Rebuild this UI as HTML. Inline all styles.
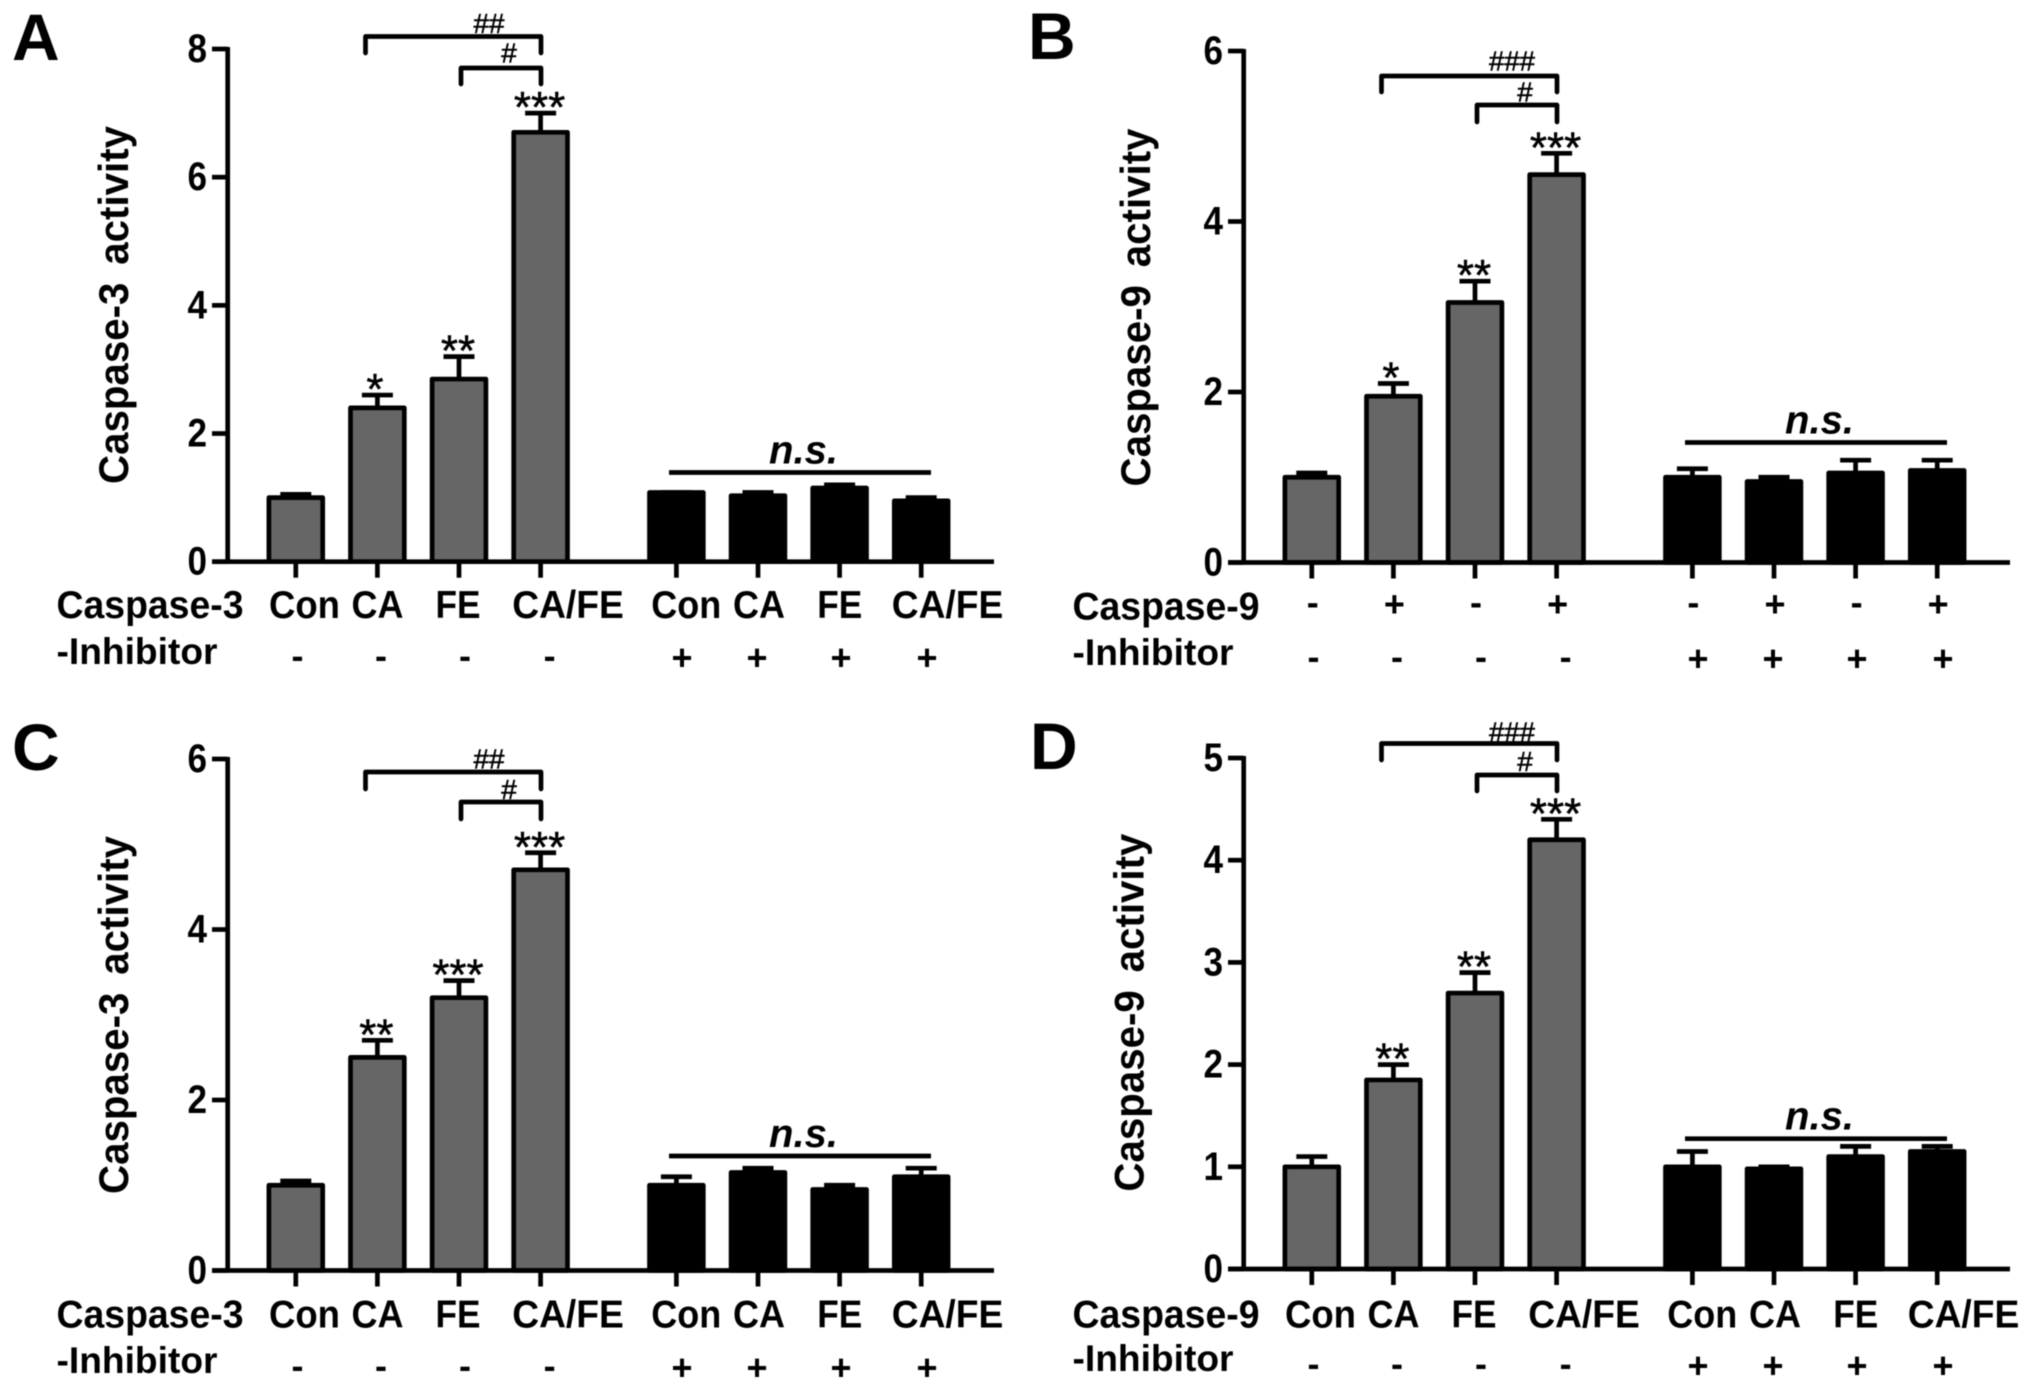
<!DOCTYPE html>
<html lang="en">
<head>
<meta charset="utf-8">
<title>Caspase-3 and Caspase-9 activity</title>
<style>
html,body{margin:0;padding:0;background:#fff;}
svg{display:block;font-family:"Liberation Sans",Arial,sans-serif;filter:blur(0.6px);}
</style>
</head>
<body>
<svg id="figure" xmlns="http://www.w3.org/2000/svg" width="2031" height="1388" viewBox="0 0 2031 1388">
<rect x="0" y="0" width="2031" height="1388" fill="#ffffff"/>
</svg>
<script>
// ---- Data ----
const categories = ['Con', 'CA', 'FE', 'CA/FE', 'Con', 'CA', 'FE', 'CA/FE'];
const inhibitorSigns = ['-', '-', '-', '-', '+', '+', '+', '+'];
const agentSigns = ['-', '+', '-', '+', '-', '+', '-', '+'];

const panelAValues = [1.0, 2.4, 2.85, 6.7, 1.08, 1.03, 1.15, 0.95];
const panelAErrorTops = [1.05, 2.6, 3.2, 7.0, 1.08, 1.08, 1.2, 1.0];
const panelATicks = [0, 2, 4, 6, 8];
const panelAStars = ['', '*', '**', '***', '', '', '', ''];

const panelBValues = [1.0, 1.95, 3.05, 4.55, 1.0, 0.95, 1.05, 1.08];
const panelBErrorTops = [1.05, 2.1, 3.3, 4.8, 1.1, 1.0, 1.2, 1.2];
const panelBTicks = [0, 2, 4, 6];
const panelBStars = ['', '*', '**', '***', '', '', '', ''];

const panelCValues = [1.0, 2.5, 3.2, 4.7, 1.0, 1.15, 0.95, 1.1];
const panelCErrorTops = [1.05, 2.7, 3.4, 4.9, 1.1, 1.2, 1.0, 1.2];
const panelCTicks = [0, 2, 4, 6];
const panelCStars = ['', '**', '***', '***', '', '', '', ''];

const panelDValues = [1.0, 1.85, 2.7, 4.2, 1.0, 0.98, 1.1, 1.15];
const panelDErrorTops = [1.1, 2.0, 2.9, 4.4, 1.15, 1.0, 1.2, 1.2];
const panelDTicks = [0, 1, 2, 3, 4, 5];
const panelDStars = ['', '**', '**', '***', '', '', '', ''];

// ---- Layout ----
const panels = [
  {id:'a', letter:'A', ox:0, letterX:12, letterY:60, base:561.7, top:49, yTitle:'Caspase-3 activity', yTitleX:128, yTitleY:305,
   rowLabel:'Caspase-3', row1Y:618, row2Y:664, signY:668, plusY:670, bracket1:[36.5,53], bracket2:[68,84], hash:'##',
   hash1Y:23, hash2Y:52.5, nsY:472.5, values:panelAValues, errs:panelAErrorTops, ticks:panelATicks, stars:panelAStars, named:true},
  {id:'b', letter:'B', ox:1016, letterX:1028, letterY:59, base:562.5, top:51, yTitle:'Caspase-9 activity', yTitleX:1150, yTitleY:307.5,
   rowLabel:'Caspase-9', row1Y:619.5, row2Y:665, signY:669, plusY:671, bracket1:[76,92], bracket2:[105,122], hash:'###',
   hash1Y:60.5, hash2Y:91.5, nsY:442.5, values:panelBValues, errs:panelBErrorTops, ticks:panelBTicks, stars:panelBStars, named:false},
  {id:'c', letter:'C', ox:0, letterX:12, letterY:770, base:1270.5, top:759, yTitle:'Caspase-3 activity', yTitleX:128, yTitleY:1015,
   rowLabel:'Caspase-3', row1Y:1327.6, row2Y:1373, signY:1378, plusY:1380, bracket1:[772,789], bracket2:[802,819], hash:'##',
   hash1Y:758.5, hash2Y:789, nsY:1156, values:panelCValues, errs:panelCErrorTops, ticks:panelCTicks, stars:panelCStars, named:true},
  {id:'d', letter:'D', ox:1016, letterX:1030, letterY:769, base:1269, top:758, yTitle:'Caspase-9 activity', yTitleX:1143.5, yTitleY:1012.6,
   rowLabel:'Caspase-9', row1Y:1327.6, row2Y:1371, signY:1376, plusY:1378, bracket1:[743.5,760], bracket2:[775,791], hash:'###',
   hash1Y:731.5, hash2Y:761, nsY:1138.7, values:panelDValues, errs:panelDErrorTops, ticks:panelDTicks, stars:panelDStars, named:true}
];

const NS = 'http://www.w3.org/2000/svg';
const svg = document.getElementById('figure');
const AXIS_X = 227.7, AXIS_END = 994, TICK_LEFT = 212, TICK_DOWN = 16, BAR_W = 53.8, CAP_W = 31, SW = 4.7;
const barCenter = i => 295.8 + 81.6 * i + (i >= 4 ? 54.2 : 0);
const nameLabelX = [304.5, 377.5, 458, 568, 686.3, 759, 839.7, 947.5];
const nameLabelW = [71, 52, 45, 111.5, 70, 52, 45, 111.5];
const inhibSignX = [297.5, 381, 465, 549.6, 682, 757, 841, 927];

function mk(parent, tag, name, attrs) {
  const el = document.createElementNS(NS, tag);
  
  
  for (const k in attrs) el.setAttribute(k, attrs[k]);
  parent.appendChild(el);
  return el;
}
function line(parent, name, x1, y1, x2, y2, w) {
  return mk(parent, 'line', name, {x1, y1, x2, y2, stroke: '#000', 'stroke-width': w || SW});
}
function text(parent, name, str, x, y, size, opts) {
  const o = opts || {};
  const el = mk(parent, 'text', name, {x, y, 'font-size': size, 'font-weight': o.weight || 'bold',
    'text-anchor': o.anchor || 'middle', fill: o.fill || '#000'});
  if (o.style) el.setAttribute('font-style', o.style);
  if (o.length) { el.setAttribute('textLength', o.length); el.setAttribute('lengthAdjust', 'spacingAndGlyphs'); }
  if (o.transform) el.setAttribute('transform', o.transform);
  if (o.stroke) { el.setAttribute('stroke', o.fill || '#000'); el.setAttribute('stroke-width', o.stroke); }
  if (o.wordSpacing) el.setAttribute('word-spacing', o.wordSpacing);
  el.textContent = str;
  return el;
}

panels.forEach(p => {
  const g = mk(svg, 'g', 'panel-' + p.id, {transform: 'translate(' + p.ox + ',0)'});
  const yMax = p.ticks[p.ticks.length - 1];
  const yScale = v => p.base - (v / yMax) * (p.base - p.top);
  const xScale = i => barCenter(i);

  text(svg, 'panel-letter-' + p.id, p.letter, p.letterX, p.letterY, 66, {anchor: 'start'});
  text(svg, 'y-axis-title-' + p.id, p.yTitle, 0, 0, 42, {
    transform: 'translate(' + p.yTitleX + ',' + p.yTitleY + ') rotate(-90)', length: 358, wordSpacing: 7});

  // bars and error bars
  p.values.forEach((v, i) => {
    const cx = xScale(i);
    const top = yScale(p.errs[i]);
    line(g, 'error-bar-' + p.id + '-' + i, cx, yScale(v), cx, top);
    line(g, 'error-cap-' + p.id + '-' + i, cx - CAP_W / 2, top, cx + CAP_W / 2, top);
    mk(g, 'rect', 'bar-' + p.id + '-' + i, {
      x: cx - BAR_W / 2, y: yScale(v), width: BAR_W, height: p.base - yScale(v),
      fill: i < 4 ? '#666666' : '#000000', stroke: '#000', 'stroke-width': SW, 'stroke-linejoin': 'round'});
    if (p.stars[i]) {
      const dx = p.stars[i].length === 1 ? -2.5 : -1;
      text(g, 'significance-stars-' + p.id + '-' + i, p.stars[i], cx + dx, top - 16 + 25, 44, {weight: 'normal', fill: '#000', stroke: 0.5});
    }
  });

  // axes
  line(g, 'y-axis-line-' + p.id, AXIS_X, p.base + 2, AXIS_X, p.top - 2);
  line(g, 'x-axis-line-' + p.id, TICK_LEFT, p.base, AXIS_END, p.base);
  p.ticks.forEach(t => {
    const y = yScale(t);
    line(g, 'y-tick-' + p.id + '-' + t, TICK_LEFT, y, AXIS_X, y);
    text(g, 'y-tick-label-' + p.id + '-' + t, String(t), 207, y + 13, 40, {anchor: 'end', length: 19.5});
  });
  categories.forEach((c, i) => {
    line(g, 'x-tick-' + p.id + '-' + i, xScale(i), p.base, xScale(i), p.base + TICK_DOWN);
  });

  // group labels
  text(g, 'row-label-agent-' + p.id, p.rowLabel, 56.5, p.row1Y, 39, {anchor: 'start', length: 187});
  text(g, 'row-label-inhibitor-' + p.id, '-Inhibitor', 56.5, p.row2Y, 37, {anchor: 'start', length: 161});
  categories.forEach((c, i) => {
    if (p.named) {
      text(g, 'category-label-' + p.id + '-' + i, c, nameLabelX[i], p.row1Y, 39, {length: nameLabelW[i]});
    } else {
      const s = agentSigns[i];
      text(g, 'agent-sign-' + p.id + '-' + i, s, xScale(i) + 1, p.row1Y - (s === '+' ? 3 : 5), 36);
    }
    const s2 = inhibitorSigns[i];
    text(g, 'inhibitor-sign-' + p.id + '-' + i, s2, inhibSignX[i], s2 === '+' ? p.plusY : p.signY, 36);
  });

  // comparison brackets
  const b1 = p.bracket1, b2 = p.bracket2;
  mk(g, 'path', 'bracket-ca-vs-cafe-' + p.id, {d: 'M365.5 ' + b1[1] + 'V' + b1[0] + 'H541V' + b1[1],
    fill: 'none', stroke: '#000', 'stroke-width': SW, 'stroke-linejoin': 'round', 'stroke-linecap': 'round'});
  mk(g, 'path', 'bracket-fe-vs-cafe-' + p.id, {d: 'M461 ' + b2[1] + 'V' + b2[0] + 'H541V' + b2[1],
    fill: 'none', stroke: '#000', 'stroke-width': SW, 'stroke-linejoin': 'round', 'stroke-linecap': 'round'});
  text(g, 'hash-ca-vs-cafe-' + p.id, p.hash, p.hash.length === 3 ? 496 : 489, p.hash1Y + 10, 28,
    {weight: 'normal', fill: '#000', stroke: 0.5, length: p.hash.length === 3 ? 46 : 31});
  text(g, 'hash-fe-vs-cafe-' + p.id, '#', 509, p.hash2Y + 10, 28, {weight: 'normal', fill: '#000', stroke: 0.5});

  // n.s. annotation
  line(g, 'not-significant-line-' + p.id, 669, p.nsY, 931, p.nsY);
  text(g, 'not-significant-label-' + p.id, 'n.s.', 803.5, p.nsY - 9, 40, {style: 'italic'});
});
</script>
</body>
</html>
